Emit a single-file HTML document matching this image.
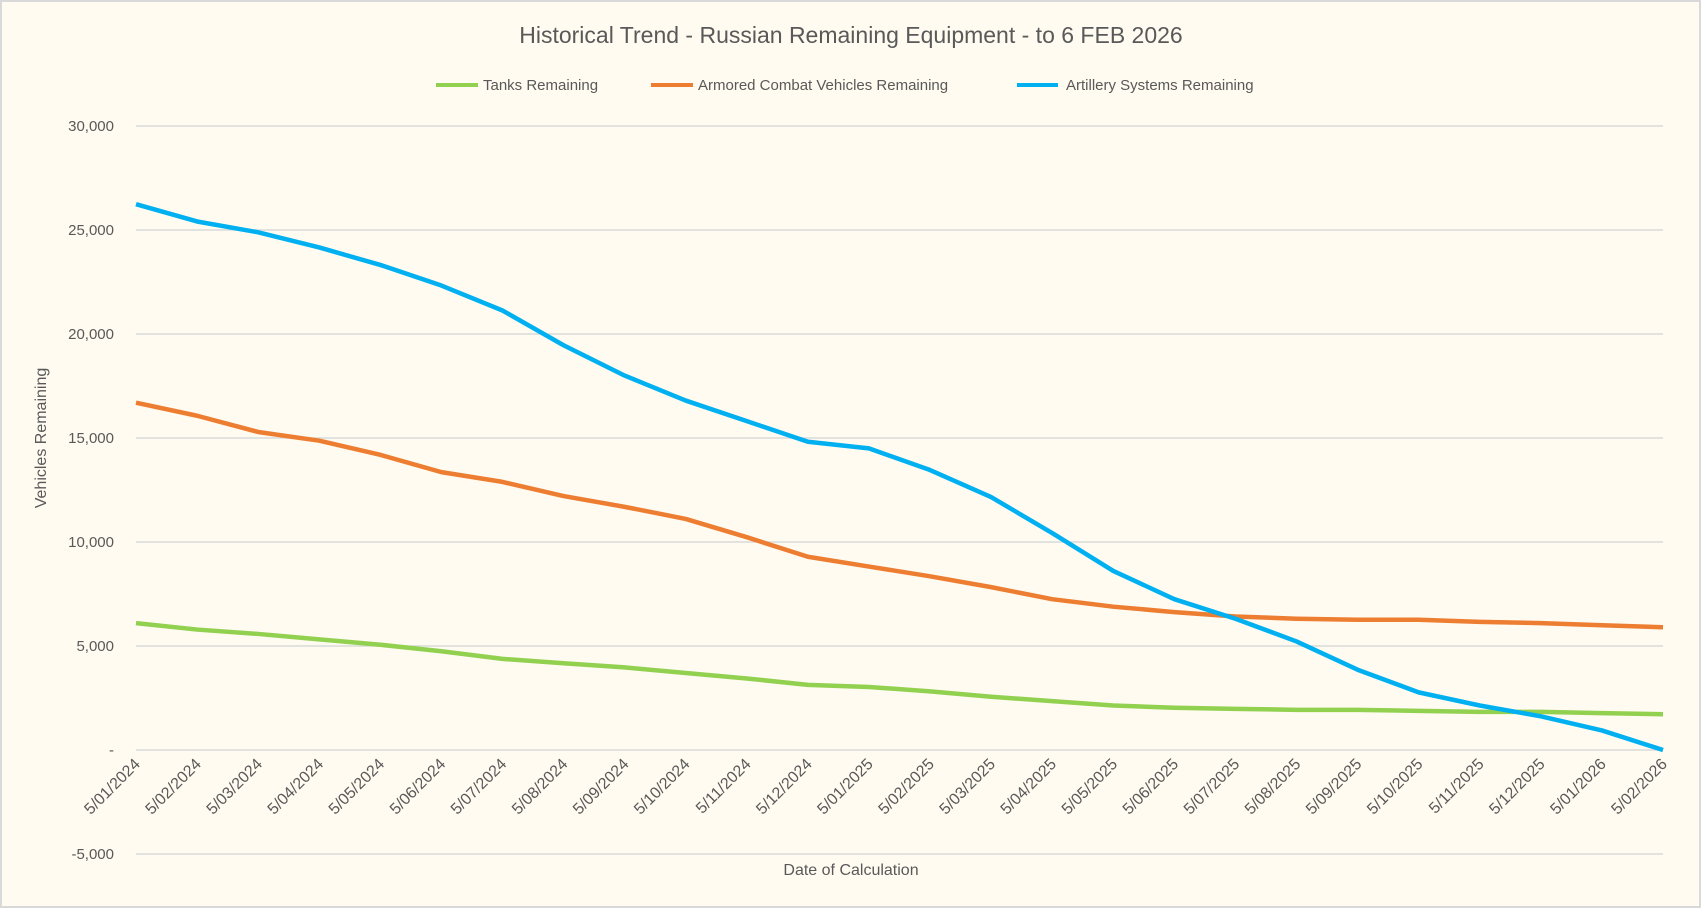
<!DOCTYPE html>
<html><head><meta charset="utf-8"><style>
body{margin:0;background:#fff;}
svg{display:block;font-family:"Liberation Sans",sans-serif;}
</style></head><body>
<svg id="chart" width="1702" height="909">
<rect x="1" y="1" width="1699" height="906" fill="#fffbf0" stroke="#d9d9d9" stroke-width="2"/>
<text x="851" y="43" text-anchor="middle" font-size="23" fill="#595959">Historical Trend - Russian Remaining Equipment - to 6 FEB 2026</text>
<g>
<g><line x1="436" y1="85" x2="478" y2="85" stroke="#92d050" stroke-width="4"/><text x="483" y="90" font-size="15" fill="#595959">Tanks Remaining</text></g>
<g><line x1="651" y1="85" x2="693" y2="85" stroke="#ed7d31" stroke-width="4"/><text x="698" y="90" font-size="15" fill="#595959">Armored Combat Vehicles Remaining</text></g>
<g><line x1="1017" y1="85" x2="1058" y2="85" stroke="#00b0f0" stroke-width="4"/><text x="1066" y="90" font-size="15" fill="#595959">Artillery Systems Remaining</text></g>
</g>
<g id="grid"></g><g id="yticks"></g><g id="xticks"></g><g id="series"></g>
<text x="851" y="875" text-anchor="middle" font-size="16" fill="#595959">Date of Calculation</text>
<text transform="translate(46,438) rotate(-90)" text-anchor="middle" font-size="16" fill="#595959">Vehicles Remaining</text>
</svg>
<script>
const categories=["5/01/2024","5/02/2024","5/03/2024","5/04/2024","5/05/2024","5/06/2024","5/07/2024","5/08/2024","5/09/2024","5/10/2024","5/11/2024","5/12/2024","5/01/2025","5/02/2025","5/03/2025","5/04/2025","5/05/2025","5/06/2025","5/07/2025","5/08/2025","5/09/2025","5/10/2025","5/11/2025","5/12/2025","5/01/2026","5/02/2026"];
const tanks=[6100,5790,5580,5320,5060,4750,4380,4170,3970,3700,3440,3130,3030,2820,2560,2350,2140,2030,1980,1930,1930,1880,1830,1830,1770,1720];
const acv=[16700,16070,15290,14870,14190,13360,12890,12210,11690,11110,10230,9290,8820,8350,7830,7250,6890,6630,6420,6310,6260,6260,6160,6100,6000,5900];
const artillery=[26240,25410,24890,24160,23320,22330,21130,19460,18000,16800,15810,14820,14500,13460,12160,10430,8610,7250,6310,5220,3860,2770,2140,1620,940,0];
const yTicks=[-5000,0,5000,10000,15000,20000,25000,30000];
const yTickLabels=["-5,000","-","5,000","10,000","15,000","20,000","25,000","30,000"];
const NS="http://www.w3.org/2000/svg";
const L=136,R=1663,Y0=750,PER=104/5000;
const x=i=>L+(R-L)*i/(categories.length-1);
const y=v=>Y0-v*PER;
function mk(t,a,p){const e=document.createElementNS(NS,t);for(const k in a)e.setAttribute(k,a[k]);p.appendChild(e);return e;}
const grid=document.getElementById('grid'),yt=document.getElementById('yticks'),xt=document.getElementById('xticks'),se=document.getElementById('series');
yTicks.forEach((v,i)=>{
 const g=mk('line',{x1:L,x2:R,y1:y(v),y2:y(v),stroke:'#d9d9d9','stroke-width':1.5},grid);
 
 
 const t=mk('text',{x:114,y:y(v)+5,'text-anchor':'end','font-size':15,fill:'#595959'},yt);
 t.textContent=yTickLabels[i];
 
 
});
categories.forEach((c,i)=>{
 const t=mk('text',{transform:`translate(${x(i)+5},${y(0)+15}) rotate(-45)`,'text-anchor':'end','font-size':16,fill:'#595959'},xt);
 t.textContent=c;
 
 
});
[[tanks,'#92d050','tanks-line'],[acv,'#ed7d31','acv-line'],[artillery,'#00b0f0','artillery-line']].forEach(([d,c,n])=>{
 const p=mk('polyline',{points:d.map((v,i)=>x(i)+','+y(v)).join(' '),fill:'none',stroke:c,'stroke-width':4.5,'stroke-linejoin':'round'},se);
 
 
});
</script>
</body></html>
